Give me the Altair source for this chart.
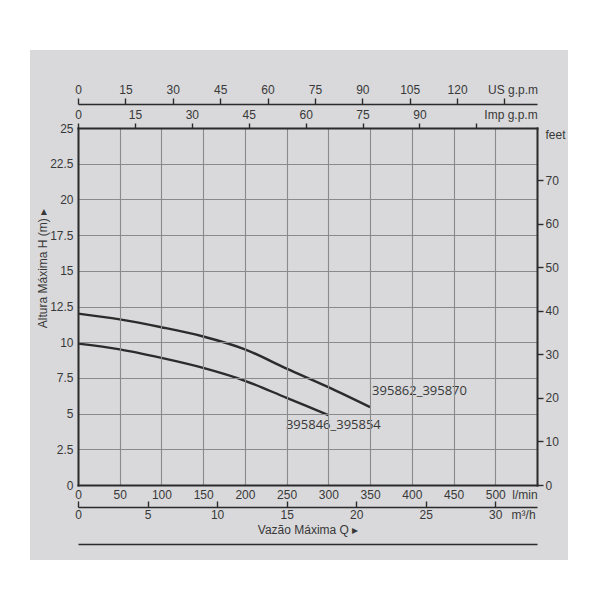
import altair as alt
import pandas as pd

# ---- data ----
q_395862 = [0, 50, 100, 150, 200, 250, 300, 350]
h_395862 = [12.0, 11.6, 11.05, 10.4, 9.5, 8.15, 6.85, 5.45]
q_395846 = [0, 50, 100, 150, 200, 250, 300]
h_395846 = [9.9, 9.5, 8.9, 8.2, 7.3, 6.1, 4.9]
series_names = ["395862_395870", "395846_395854"]

lpm_ticks = [0, 50, 100, 150, 200, 250, 300, 350, 400, 450, 500, 550]
h_ticks = [0, 2.5, 5, 7.5, 10, 12.5, 15, 17.5, 20, 22.5, 25]
feet_ticks = [0, 10, 20, 30, 40, 50, 60, 70]
us_ticks = [0, 15, 30, 45, 60, 75, 90, 105, 120, 135]
imp_ticks = [0, 15, 30, 45, 60, 75, 90, 105]
m3h_ticks = [0, 5, 10, 15, 20, 25, 30]

Q_MAX = 550.0          # l/min
H_MAX = 25.0           # m
FT_MAX = H_MAX * 3.2808
US_MAX = Q_MAX / 3.7854
IMP_MAX = Q_MAX / 4.5461
M3H_MAX = Q_MAX * 60 / 1000

# ---- tables ----
curves = pd.DataFrame(
    {"q": q_395862 + q_395846,
     "h": h_395862 + h_395846,
     "serie": [series_names[0]] * len(q_395862) + [series_names[1]] * len(q_395846)}
)
end_upper = pd.DataFrame({"q": [q_395862[-1]], "h": [h_395862[-1]], "name": [series_names[0]]})
end_lower = pd.DataFrame({"q": [q_395846[-1]], "h": [h_395846[-1]], "name": [series_names[1]]})

W, H = 459, 357
FONT = "Liberation Sans"
INK = "#2b2b2b"
TXT = "#383838"
GRID = "#8a8a8a"
PAPER = "#d9d9db"

xq = alt.Scale(domain=[0, Q_MAX], nice=False, zero=False)
yh = alt.Scale(domain=[0, H_MAX], nice=False, zero=False)

common = dict(labelFont=FONT, labelFontSize=12, labelColor=TXT, labelFlush=False,
              labelOverlap=False, titleFont=FONT, titleColor=TXT, titleFontWeight="normal",
              titleFontSize=12, zindex=1)

# paper background (photo area)
paper = alt.Chart(alt.Data(values=[{"k": 1}])).mark_rect(color=PAPER).encode(
    x=alt.value(-48), x2=alt.value(W + 31), y=alt.value(-78), y2=alt.value(H + 75)
)

lines = alt.Chart(curves).mark_line(color=INK, strokeWidth=2.4, interpolate="monotone").encode(
    x=alt.X("q:Q", scale=xq, axis=alt.Axis(
        orient="bottom", values=lpm_ticks + [535], grid=True, gridColor=GRID, gridWidth=1.1,
        gridOpacity={"condition": {"test": "datum.value == 535", "value": 0}, "value": 1},
        ticks=False, domain=True, domainColor=INK, domainWidth=2, domainCap="square",
        labelPadding=4, title=None,
        labelExpr="datum.value == 550 ? '' : (datum.value == 535 ? 'l/min' : datum.label)",
        **common)),
    y=alt.Y("h:Q", scale=yh, axis=alt.Axis(
        orient="left", values=h_ticks, format=".1~f", grid=True, gridColor=GRID, gridWidth=1.1,
        ticks=False, domain=True, domainColor=INK, domainWidth=2, domainCap="square",
        labelPadding=5, title="Altura Máxima H (m) ▸", titleX=-36, titleY=140,
        titleAngle=270, titleAlign="center", titleBaseline="middle", **common)),
    detail="serie:N",
)

lab_up = alt.Chart(end_upper).mark_text(
    align="left", baseline="alphabetic", dx=2, dy=-12, font="Open Sans", fontSize=13, color=TXT
).encode(x=alt.X("q:Q", scale=xq, axis=None), y=alt.Y("h:Q", scale=yh, axis=None), text="name:N")

lab_low = alt.Chart(end_lower).mark_text(
    align="center", baseline="alphabetic", dx=5, dy=14, font="Open Sans", fontSize=13, color=TXT
).encode(x=alt.X("q:Q", scale=xq, axis=None), y=alt.Y("h:Q", scale=yh, axis=None), text="name:N")

us = alt.Chart(pd.DataFrame({"v": us_ticks})).mark_point(opacity=0).encode(
    x=alt.X("v:Q", scale=alt.Scale(domain=[0, US_MAX], nice=False, zero=False), axis=alt.Axis(
        orient="top", offset=24, values=us_ticks, grid=False, domain=True, domainColor=INK,
        domainWidth=1.6, ticks=True, tickColor=INK, tickWidth=1.4, tickSize=6, labelPadding=2,
        labelExpr="datum.value == 135 ? 'US g.p.m' : datum.label",
        labelOffset={"condition": {"test": "datum.value == 135", "value": 8}, "value": 0},
        title=None, **common))
)

imp = alt.Chart(pd.DataFrame({"v": imp_ticks + [114]})).mark_point(opacity=0).encode(
    x=alt.X("v:Q", scale=alt.Scale(domain=[0, IMP_MAX], nice=False, zero=False), axis=alt.Axis(
        orient="top", offset=0, values=imp_ticks + [114], grid=False, domain=True,
        domainColor=INK, domainWidth=2, domainCap="square",
        ticks=True, tickColor=INK, tickWidth=1.4, tickSize=5,
        tickOpacity={"condition": {"test": "datum.value == 114", "value": 0}, "value": 1},
        labelPadding=2,
        labelExpr="datum.value == 114 ? 'Imp g.p.m' : (datum.value == 105 ? '' : datum.label)",
        title=None, **common))
)

m3_labels = alt.Chart(pd.DataFrame({"v": m3h_ticks + [32]})).mark_point(opacity=0).encode(
    x=alt.X("v:Q", scale=alt.Scale(domain=[0, M3H_MAX], nice=False, zero=False), axis=alt.Axis(
        orient="bottom", offset=22, values=m3h_ticks + [32], grid=False, domain=True,
        domainColor=INK, domainWidth=1.6, ticks=False, labelPadding=2,
        labelExpr="datum.value == 32 ? 'm³/h' : datum.label",
        title="Vazão Máxima Q ▸", titlePadding=4, **common))
)

m3_ticks = alt.Chart(pd.DataFrame({"v": m3h_ticks})).mark_point(opacity=0).encode(
    x=alt.X("v:Q", scale=alt.Scale(domain=[0, M3H_MAX], nice=False, zero=False), axis=alt.Axis(
        orient="bottom", offset=16, values=m3h_ticks, grid=False, domain=False,
        ticks=True, tickColor=INK, tickWidth=1.4, tickSize=6, labels=False, title=None,
        zindex=1))
)

bottom_rule = alt.Chart(pd.DataFrame({"v": [0, M3H_MAX]})).mark_point(opacity=0).encode(
    x=alt.X("v:Q", scale=alt.Scale(domain=[0, M3H_MAX], nice=False, zero=False), axis=alt.Axis(
        orient="bottom", offset=59, values=[0], grid=False, domain=True, domainColor=INK,
        domainWidth=1.6, ticks=False, labels=False, title=None, zindex=1))
)

feet = alt.Chart(pd.DataFrame({"v": feet_ticks})).mark_point(opacity=0).encode(
    y=alt.Y("v:Q", scale=alt.Scale(domain=[0, FT_MAX], nice=False, zero=False), axis=alt.Axis(
        orient="right", values=feet_ticks, grid=False, domain=True, domainColor=INK,
        domainWidth=2, domainCap="square", ticks=True, tickColor=INK, tickWidth=1.4,
        tickSize=6, labelPadding=2, title="feet", titleAngle=0, titleX=8, titleY=6,
        titleAlign="left", titleBaseline="middle", **common))
)

chart = alt.layer(
    paper, lines, lab_up, lab_low, us, imp, m3_labels, m3_ticks, bottom_rule, feet
).resolve_scale(x="independent", y="independent").properties(
    width=W, height=H,
    padding={"left": 70, "top": 120, "right": 55, "bottom": 99},
    autosize=alt.AutoSizeParams(type="none"),
    background="white",
).configure_view(stroke=None)

chart.save("out.html", embed_options={"renderer": "svg", "actions": False})
